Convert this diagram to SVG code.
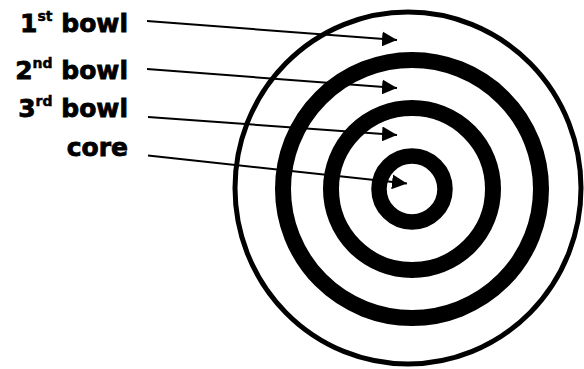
<svg xmlns="http://www.w3.org/2000/svg" width="584" height="369" viewBox="0 0 584 369">
<defs>
<marker id="ah" viewBox="0 0 10 10" refX="10" refY="5" markerWidth="15" markerHeight="15" markerUnits="userSpaceOnUse" orient="auto">
<path d="M0,0 L10,5 L0,10 Z" fill="#000"/>
</marker>
<style>
.lbl{font-family:"DejaVu Sans","Liberation Sans",sans-serif;font-weight:bold;font-size:25px;fill:#000;stroke:#000;stroke-width:0.8;text-anchor:end}
.sup{font-size:14px;stroke-width:0.5}
.ring{fill:none;stroke:#000}
.conn{stroke:#000;stroke-width:2;fill:none;marker-end:url(#ah)}
</style>
</defs>
<rect width="584" height="369" fill="#fff"/>
<g id="bowl1-ring"><ellipse class="ring" cx="408" cy="188" rx="173" ry="176" stroke-width="5"/></g>
<g id="bowl2-ring"><circle class="ring" cx="412" cy="189" r="129" stroke-width="16"/></g>
<g id="bowl3-ring"><circle class="ring" cx="412" cy="189" r="81" stroke-width="16"/></g>
<g id="core-ring"><circle class="ring" cx="412" cy="189" r="33" stroke-width="15.5"/></g>
<g id="label-1st"><text class="lbl" x="128" y="32">1<tspan class="sup" dy="-11">st</tspan><tspan dy="11"> bowl</tspan></text></g>
<g id="label-2nd"><text class="lbl" x="128" y="79">2<tspan class="sup" dy="-11">nd</tspan><tspan dy="11"> bowl</tspan></text></g>
<g id="label-3rd"><text class="lbl" x="128" y="117">3<tspan class="sup" dy="-11">rd</tspan><tspan dy="11"> bowl</tspan></text></g>
<g id="label-core"><text class="lbl" x="128" y="156">core</text></g>
<g id="connectors">
<line class="conn" x1="147" y1="21" x2="397" y2="40"/>
<line class="conn" x1="147" y1="69" x2="397" y2="88"/>
<line class="conn" x1="148" y1="117" x2="397" y2="135"/>
<line class="conn" x1="148" y1="155.5" x2="407" y2="183.5"/>
</g>
</svg>
